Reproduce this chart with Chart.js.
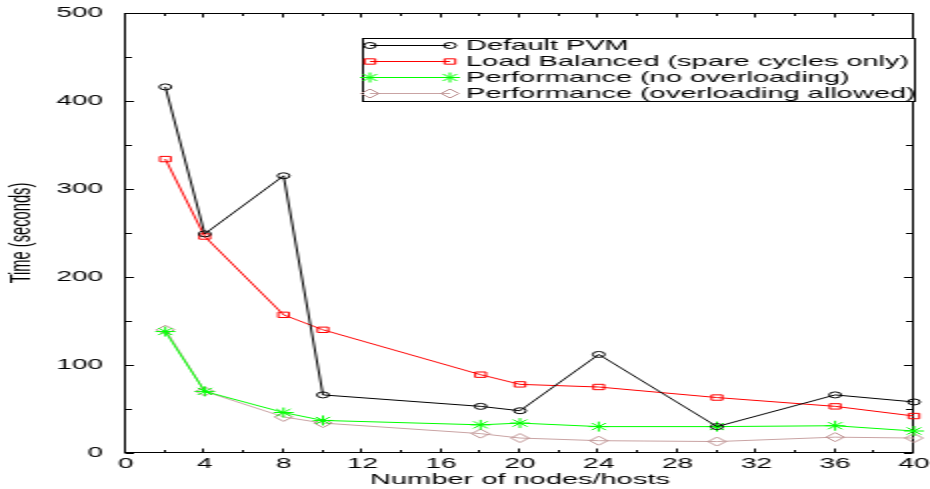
<!DOCTYPE html>
<html>
<head>
<meta charset="utf-8">
<script src="https://cdn.jsdelivr.net/npm/chart.js@4.4.0/dist/chart.umd.min.js"></script>
<style>
  html, body { margin: 0; padding: 0; background: #fff; }
</style>
</head>
<body>
<!-- drawn at half width and stretched, like the original figure -->
<canvas id="chart" width="465" height="489" style="display:block;width:930px;height:489px;"></canvas>
<script>
const nodes = [2, 4, 8, 10, 18, 20, 24, 30, 36, 40];
const defaultPvm = [416, 249, 315, 66, 53, 48, 112, 30, 66, 58];
const loadBalanced = [334, 246, 157, 140, 89, 78, 75, 63, 53, 42];
const perfNoOverload = [138, 70, 46, 37, 32, 34, 30, 30, 31, 25];
const perfOverload = [140, 70, 41, 34, 22, 17, 14, 13, 18, 17];

const xTicks = [0, 4, 8, 12, 16, 20, 24, 28, 32, 36, 40];
const xMinorTicks = [2, 6, 10, 14, 18, 22, 26, 30, 34, 38];
const yTicks = [0, 100, 200, 300, 400, 500];
const yMinorTicks = [50, 150, 250, 350, 450];

const FONT = '"Liberation Sans", Arial, Helvetica, sans-serif';

const toPoints = values => values.map((v, i) => ({ x: nodes[i], y: v }));

function series(label, values, color, pointColor, pointStyle, radius) {
  return {
    label,
    data: toPoints(values),
    borderColor: color,
    borderWidth: 1,
    pointStyle,
    pointRadius: radius,
    pointBorderColor: pointColor,
    pointBackgroundColor: 'rgba(0,0,0,0)',
    pointBorderWidth: 1,
    tension: 0,
    clip: false,
  };
}

const datasets = [
  series('Default PVM', defaultPvm, '#000000', '#000000', 'circle', 3),
  series('Load Balanced (spare cycles only)', loadBalanced, '#ff0000', '#ff0000', 'rect', 3.8),
  series('Performance (no overloading)', perfNoOverload, '#00ff00', '#00ff00', 'star', 5),
  series('Performance (overloading allowed)', perfOverload, '#c9a3a3', '#bc8f8f', 'rectRot', 4.5),
];

// box with inward ticks on all four sides
const frame = {
  id: 'frame',
  beforeDatasetsDraw(chart) {
    const { ctx, chartArea: a, scales: { x, y } } = chart;
    const l = Math.round(a.left) - 0.5, r = Math.round(a.right) - 0.5;
    const t = Math.round(a.top) + 0.5, b = Math.round(a.bottom) - 0.5;
    ctx.save();
    ctx.strokeStyle = '#000';
    ctx.lineWidth = 1;
    ctx.strokeRect(l, t, r - l, b - t);
    ctx.beginPath();
    const xt = (vals, len) => vals.forEach(v => {
      const px = Math.round(x.getPixelForValue(v)) - 0.5;
      ctx.moveTo(px, b); ctx.lineTo(px, b - len);
      ctx.moveTo(px, t); ctx.lineTo(px, t + len);
    });
    const yt = (vals, len) => vals.forEach(v => {
      const py = Math.round(y.getPixelForValue(v)) + 0.5;
      ctx.moveTo(l, py); ctx.lineTo(l + len, py);
      ctx.moveTo(r, py); ctx.lineTo(r - len, py);
    });
    xt(xTicks, 4); xt(xMinorTicks, 2.5);
    yt(yTicks, 4.5); yt(yMinorTicks, 3.5);
    ctx.stroke();
    ctx.restore();
  }
};

const boxLegend = {
  id: 'boxLegend',
  afterDatasetsDraw(chart) {
    const { ctx } = chart;
    const left = 181.5, top = 38.5, right = 457.5, bottom = 101.5;
    ctx.save();
    ctx.fillStyle = '#fff';
    ctx.fillRect(left, top, right - left, bottom - top);
    ctx.strokeStyle = '#000';
    ctx.lineWidth = 1;
    ctx.strokeRect(left, top, right - left, bottom - top);
    ctx.font = '14.5px ' + FONT;
    ctx.textBaseline = 'middle';
    chart.data.datasets.forEach((ds, i) => {
      const cy = 45.5 + i * 16;
      ctx.strokeStyle = ds.borderColor;
      ctx.beginPath();
      ctx.moveTo(185, cy);
      ctx.lineTo(225, cy);
      ctx.stroke();
      ctx.strokeStyle = ds.pointBorderColor;
      ctx.fillStyle = 'rgba(0,0,0,0)';
      const opts = { pointStyle: ds.pointStyle, radius: ds.pointRadius, borderWidth: 1, rotation: 0 };
      Chart.helpers.drawPoint(ctx, opts, 185, cy);
      Chart.helpers.drawPoint(ctx, opts, 225, cy);
      ctx.fillStyle = '#000';
      ctx.fillText(ds.label, 233, cy + 0.5);
    });
    ctx.restore();
  }
};

new Chart(document.getElementById('chart'), {
  type: 'line',
  data: { datasets },
  plugins: [frame, boxLegend],
  options: {
    responsive: false,
    animation: false,
    events: [],
    layout: { padding: { top: 13, right: 8, left: 0, bottom: 0 } },
    plugins: {
      legend: { display: false },
      tooltip: { enabled: false },
    },
    scales: {
      x: {
        type: 'linear',
        min: 0,
        max: 40,
        afterBuildTicks: s => { s.ticks = xTicks.map(v => ({ value: v })); },
        grid: { display: false, drawTicks: false },
        border: { display: false },
        ticks: { color: '#000', font: { family: FONT, size: 14 }, padding: 3, maxRotation: 0, autoSkip: false },
        title: { display: true, text: 'Number of nodes/hosts', color: '#000', font: { family: FONT, size: 14.5 }, padding: 0 },
        afterFit: s => { s.height = 36; s.paddingLeft = 0; s.paddingRight = 0; },
      },
      y: {
        type: 'linear',
        min: 0,
        max: 500,
        afterBuildTicks: s => { s.ticks = yTicks.map(v => ({ value: v })); },
        grid: { display: false, drawTicks: false },
        border: { display: false },
        ticks: { color: '#000', font: { family: FONT, size: 14 }, padding: 11.5 },
        title: { display: true, text: 'Time (seconds)', color: '#000', font: { family: FONT, size: 14.7 }, padding: { top: 2, bottom: 0 } },
        afterFit: s => { s.width = 63; s.paddingTop = 0; s.paddingBottom = 0; },
      },
    },
  },
});
</script>
</body>
</html>
